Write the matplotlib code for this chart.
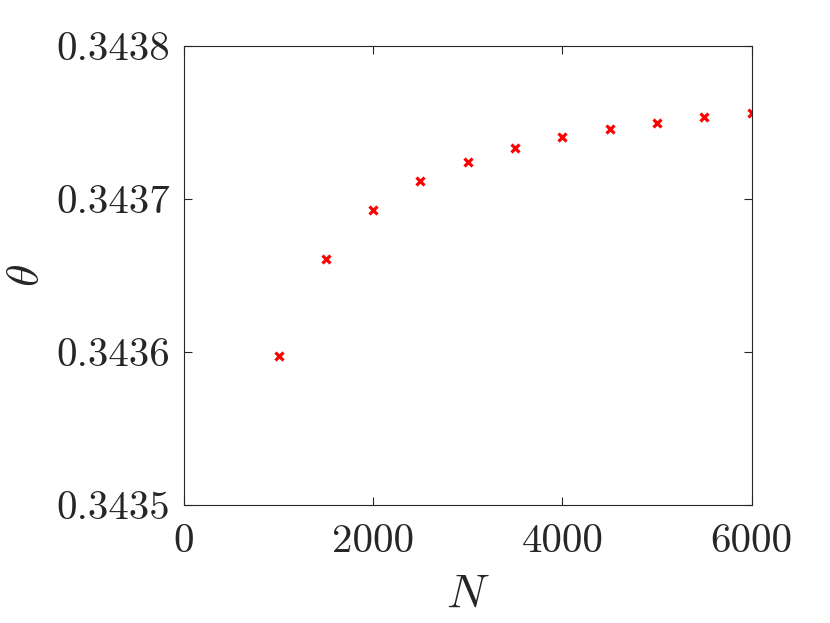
import matplotlib
matplotlib.use("Agg")
import matplotlib.pyplot as plt

N = [1000, 1500, 2000, 2500, 3000, 3500, 4000, 4500, 5000, 5500, 6000]
theta = [0.3435974, 0.3436608, 0.3436926, 0.3437118, 0.3437244, 0.3437335,
         0.3437403, 0.3437458, 0.3437499, 0.3437534, 0.3437562]
xticks = [0, 2000, 4000, 6000]
yticks = [0.3435, 0.3436, 0.3437, 0.3438]
ytick_labels = ["0.3435", "0.3436", "0.3437", "0.3438"]

plt.rcParams['font.family'] = 'serif'
plt.rcParams['font.serif'] = ['cmr10']
plt.rcParams['mathtext.fontset'] = 'cm'
plt.rcParams['axes.formatter.use_mathtext'] = True

fig = plt.figure(figsize=(8.3, 6.23), dpi=100)
ax = fig.add_axes([184/830, 1-505/623, (751.5-184)/830, (505-46)/623])
ax.plot(N, theta, linestyle='none', marker='x', color='red', markersize=5.5, markeredgewidth=2.3)
ax.set_xlim(0, 6000)
ax.set_ylim(0.3435, 0.3438)
ax.set_xticks(xticks)
ax.set_xticklabels([str(v) for v in xticks])
ax.set_yticks(yticks)
ax.set_yticklabels(ytick_labels)
ax.tick_params(direction='in', length=6, width=0.8, colors='#262626', labelsize=29.5,
               top=True, right=True, pad=10)
ax.tick_params(axis='x', pad=14)
for s in ax.spines.values():
    s.set_color('#262626')
    s.set_linewidth(0.8)
ax.set_xlabel(r'$N$', fontsize=34, color='#262626', labelpad=10)
ax.set_ylabel(r'$\theta$', fontsize=33, color='#262626', labelpad=7)
fig.savefig('out.png', dpi=100)
